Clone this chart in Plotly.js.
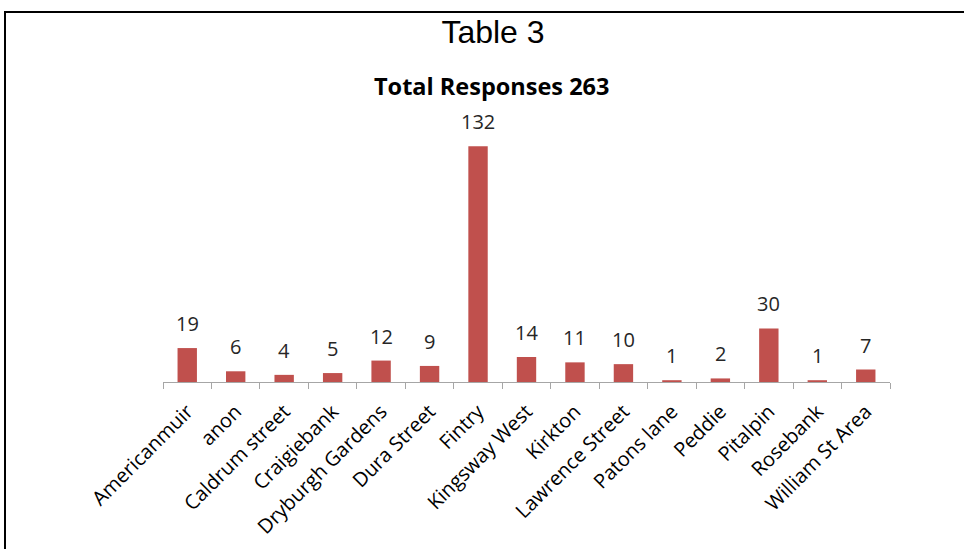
<!DOCTYPE html>
<html>
<head>
<meta charset="utf-8">
<script src="https://cdn.plot.ly/plotly-3.0.1.min.js"></script>
<style>
html,body{margin:0;padding:0;background:#fff;}
#wrap{position:relative;width:964px;height:549px;overflow:hidden;}
#chart{width:964px;height:549px;}
#frame{position:absolute;left:4px;top:11px;width:980px;height:560px;border:2px solid #000;pointer-events:none;box-sizing:border-box;}
</style>
</head>
<body>
<div id="wrap"><div id="chart"></div><div id="frame"></div></div>
<script>
const categories = ["Americanmuir","anon","Caldrum street","Craigiebank","Dryburgh Gardens","Dura Street","Fintry","Kingsway West","Kirkton","Lawrence Street","Patons lane","Peddie","Pitalpin","Rosebank","William St Area"];
const responses = [19,6,4,5,12,9,132,14,11,10,1,2,30,1,7];
const chartTitle = "Table 3";
const subTitle = "Total Responses 263";

const trace = {
  type: "bar",
  x: categories,
  y: responses,
  marker: {color: "#C0504D", line: {width: 0}},
  hoverinfo: "x+y"
};

const labelAnns = categories.map((c, i) => ({
  x: c, y: responses[i], xref: "x", yref: "y",
  text: String(responses[i]), showarrow: false,
  yanchor: "bottom", yshift: 9,
  font: {family: "Open Sans, sans-serif", size: 20, color: "#262626"}
}));

const layout = {
  width: 964, height: 549,
  margin: {l: 163, r: 74, t: 132, b: 167},
  paper_bgcolor: "#fff", plot_bgcolor: "#fff",
  showlegend: false,
  bargap: 0.6,
  title: {
    text: chartTitle,
    x: 493/964, xanchor: "center",
    y: 1 - 32/549, yanchor: "middle",
    font: {family: "Liberation Sans, Arial, sans-serif", size: 32, color: "#000"}
  },
  xaxis: {
    type: "category",
    tickangle: -45,
    ticks: "outside", tickson: "boundaries", ticklen: 6, tickcolor: "#a6a6a6", tickwidth: 1,
    ticklabelstandoff: 9,
    showline: true, linecolor: "#a6a6a6", linewidth: 1,
    tickfont: {family: "Open Sans, sans-serif", size: 20, color: "#000"},
    showgrid: false, zeroline: false
  },
  yaxis: {
    range: [0, 140], visible: false, showgrid: false, zeroline: false, fixedrange: true
  },
  annotations: labelAnns.concat([{
    xref: "paper", yref: "paper", x: (491-163)/727, y: (382-86)/250,
    xanchor: "center", yanchor: "middle", showarrow: false,
    text: "<b>" + subTitle + "</b>",
    font: {family: "Open Sans, sans-serif", size: 23.5, color: "#000"}
  }])
};

Plotly.newPlot("chart", [trace], layout, {displayModeBar: false, staticPlot: true});
</script>
</body>
</html>
